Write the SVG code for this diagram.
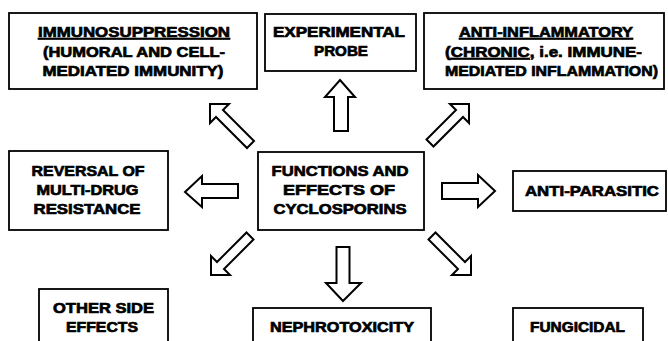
<svg xmlns="http://www.w3.org/2000/svg" width="668" height="341" viewBox="0 0 668 341">
<style>
.box{fill:#fff;stroke:#000;stroke-width:1.8}
.arr{fill:#fff;stroke:#000;stroke-width:2;stroke-linejoin:miter}
text{font-family:"Liberation Sans",Arial,sans-serif;font-weight:bold;font-size:15px;fill:#000;stroke:#000;stroke-width:0.7;text-anchor:middle}
.u{text-decoration:underline}
</style>
<rect width="668" height="341" fill="#fff"/>
<g id="connectors">
<polygon class="arr" points="340,80 355,97 348,97 348,131 334,131 334,97 325,97"/>
<polygon class="arr" points="343,301 361,283 349.5,283 349.5,247 336.5,247 336.5,283 326,283"/>
<polygon class="arr" points="185,192 202,176 202,184 238,184 238,198 202,198 202,207"/>
<polygon class="arr" points="495,191 478,175 478,183 442,183 442,199 478,199 478,207"/>
<polygon class="arr" points="210,104 229,104 223,110 254,141 247,148 216,117 210,123"/>
<polygon class="arr" points="469,104 450,104 456,110 426.5,139.5 433.5,146.5 463,117 469,123"/>
<polygon class="arr" points="211,275 211,256 217,262 246.5,232.5 253.5,239.5 224,269 230,275"/>
<polygon class="arr" points="471,275 471,256 465,262 435.5,232.5 428.5,239.5 458,269 452,275"/>
</g>
<g id="immuno">
<rect class="box" x="9" y="13" width="248" height="76"/>
<text x="134" y="37" textLength="192" lengthAdjust="spacingAndGlyphs" class="u">IMMUNOSUPPRESSION</text>
<text x="134" y="57" textLength="182" lengthAdjust="spacingAndGlyphs">(HUMORAL AND CELL-</text>
<text x="133" y="76" textLength="181" lengthAdjust="spacingAndGlyphs">MEDIATED IMMUNITY)</text>
</g>
<g id="probe">
<rect class="box" x="265" y="14" width="151" height="57"/>
<text x="339" y="37" textLength="132" lengthAdjust="spacingAndGlyphs">EXPERIMENTAL</text>
<text x="341" y="56" textLength="54" lengthAdjust="spacingAndGlyphs">PROBE</text>
</g>
<g id="antiinflam">
<rect class="box" x="424" y="13" width="240" height="76"/>
<text x="546" y="37" textLength="174" lengthAdjust="spacingAndGlyphs" class="u">ANTI-INFLAMMATORY</text>
<text x="543.5" y="57" textLength="197" lengthAdjust="spacingAndGlyphs">(<tspan class="u">CHRONIC,</tspan> i.e. IMMUNE-</text>
<text x="551.5" y="76" textLength="213" lengthAdjust="spacingAndGlyphs">MEDIATED INFLAMMATION)</text>
</g>
<g id="reversal">
<rect class="box" x="9" y="151" width="159" height="79"/>
<text x="88" y="176" textLength="113" lengthAdjust="spacingAndGlyphs">REVERSAL OF</text>
<text x="87.5" y="195" textLength="102" lengthAdjust="spacingAndGlyphs">MULTI-DRUG</text>
<text x="87" y="214" textLength="107" lengthAdjust="spacingAndGlyphs">RESISTANCE</text>
</g>
<g id="center">
<rect class="box" x="258" y="152" width="166" height="78"/>
<text x="340" y="176" textLength="137" lengthAdjust="spacingAndGlyphs">FUNCTIONS AND</text>
<text x="339" y="195" textLength="112" lengthAdjust="spacingAndGlyphs">EFFECTS OF</text>
<text x="340" y="214" textLength="133" lengthAdjust="spacingAndGlyphs">CYCLOSPORINS</text>
</g>
<g id="parasitic">
<rect class="box" x="513" y="171" width="153" height="40"/>
<text x="592" y="196" textLength="134" lengthAdjust="spacingAndGlyphs">ANTI-PARASITIC</text>
</g>
<g id="sideeffects">
<rect class="box" x="39" y="289" width="129" height="70"/>
<text x="103.5" y="313" textLength="101" lengthAdjust="spacingAndGlyphs">OTHER SIDE</text>
<text x="102" y="332" textLength="72" lengthAdjust="spacingAndGlyphs">EFFECTS</text>
</g>
<g id="nephro">
<rect class="box" x="253" y="308" width="178" height="50"/>
<text x="342" y="332" textLength="144" lengthAdjust="spacingAndGlyphs">NEPHROTOXICITY</text>
</g>
<g id="fungicidal">
<rect class="box" x="513" y="308" width="130" height="50"/>
<text x="577.5" y="332" textLength="95" lengthAdjust="spacingAndGlyphs">FUNGICIDAL</text>
</g>
</svg>
